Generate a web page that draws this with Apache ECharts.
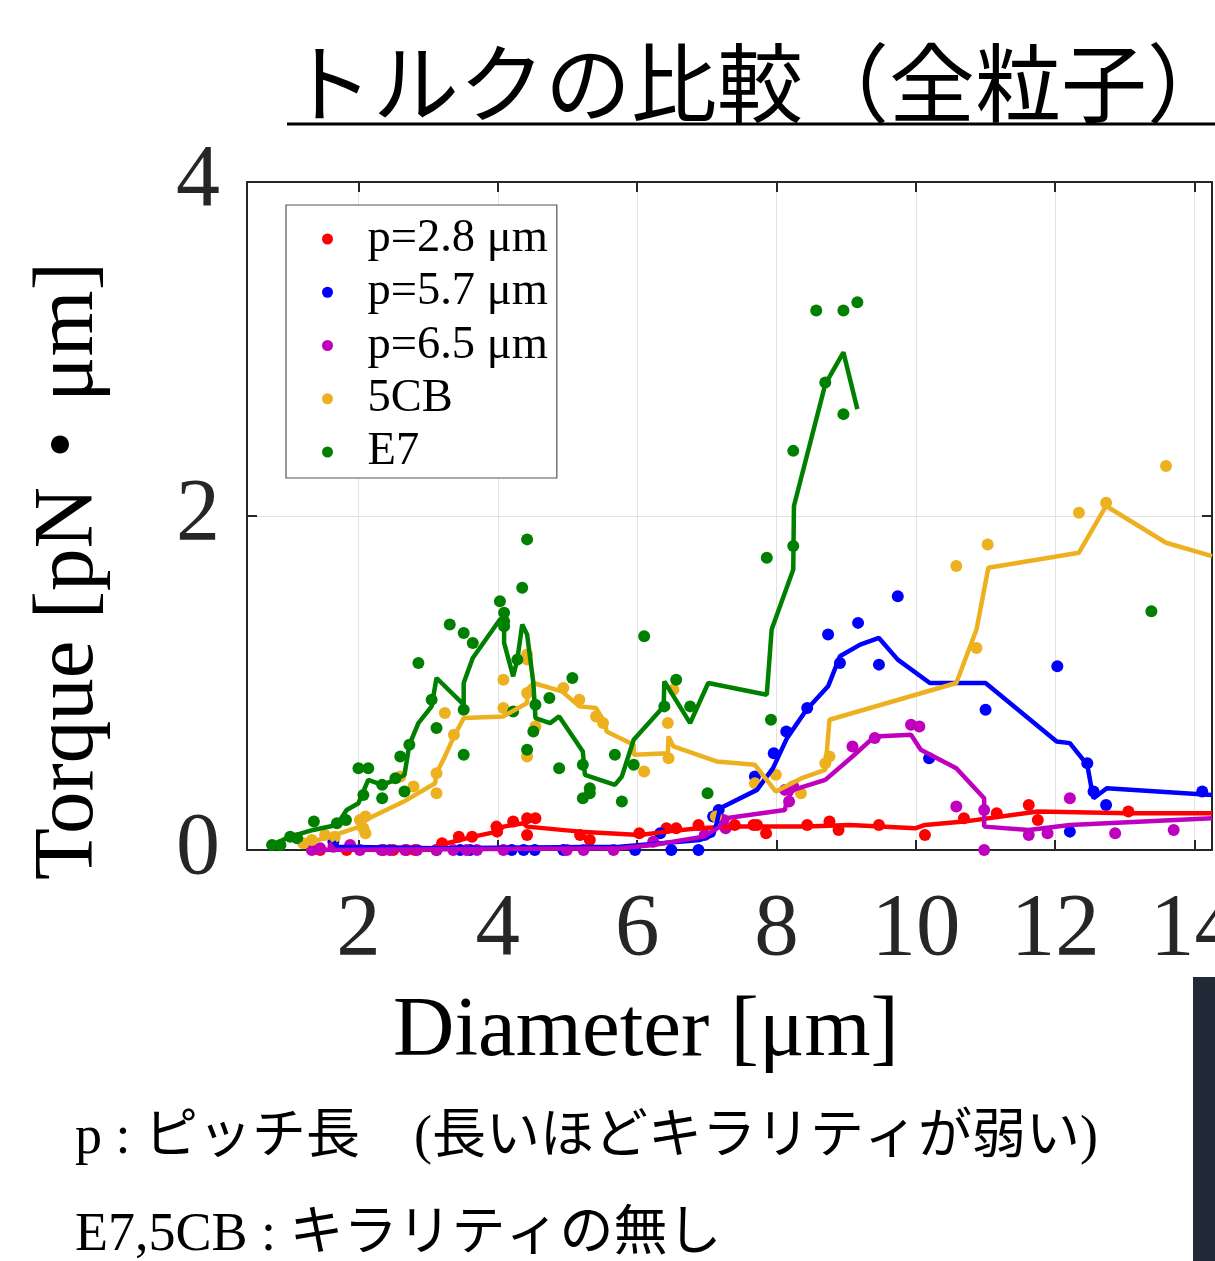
<!DOCTYPE html>
<html>
<head>
<meta charset="utf-8">
<title>トルクの比較（全粒子）</title>
<script src="https://cdn.jsdelivr.net/npm/echarts@6/dist/echarts.min.js"></script>
<style>
html, body { margin: 0; padding: 0; background: #fff; }
#main { width: 1215px; height: 1261px; }
</style>
</head>
<body>
<div id="main"></div>
<script>
// tick labels on the axes
var xTicks = [2, 4, 6, 8, 10, 12, 14];
var yTicks = [0, 2, 4];

var seriesNames = ['p=2.8 μm', 'p=5.7 μm', 'p=6.5 μm', '5CB', 'E7'];
var seriesColors = ['#ff0000', '#0000ff', '#bf00bf', '#edb120', '#008000'];

// p=2.8 um : measured points
var p28X = [1.45, 1.83, 2.36, 2.50, 2.69, 2.81, 3.20, 3.44, 3.63, 3.98, 3.99, 4.22, 4.42, 4.54, 4.42,
  5.18, 5.32, 6.03, 6.42, 6.56, 6.88, 7.40, 7.67, 7.72, 7.85, 8.44, 8.76, 8.89, 9.47,
  10.13, 10.69, 11.16, 11.62, 11.75, 13.05];
var p28Y = [0, 0, 0, 0, 0, 0, 0.04, 0.08, 0.08, 0.14, 0.11, 0.17, 0.19, 0.19, 0.09,
  0.09, 0.06, 0.10, 0.13, 0.13, 0.15, 0.15, 0.15, 0.15, 0.10, 0.15, 0.17, 0.12, 0.15,
  0.09, 0.19, 0.22, 0.27, 0.18, 0.23];
// p=2.8 um : averaged curve
var p28LineX = [1.45, 3.10, 3.17, 3.65, 3.99, 4.08, 4.37, 4.42, 5.18, 6.04, 6.42, 6.88, 7.40, 8.43,
  9.05, 9.99, 10.13, 10.69, 11.75, 13.05, 14.25];
var p28LineY = [0, 0, 0.03, 0.08, 0.11, 0.14, 0.16, 0.14, 0.11, 0.09, 0.11, 0.13, 0.14, 0.14,
  0.15, 0.13, 0.15, 0.17, 0.23, 0.22, 0.22];

// p=5.7 um
var p57X = [1.64, 3.12, 3.46, 3.60, 4.20, 4.37, 4.53, 4.94, 5.97, 6.33, 6.49, 6.88, 7.09, 7.17,
  7.69, 7.96, 8.14, 8.44, 8.74, 8.91, 9.17, 9.47, 9.74, 10.19, 11.00, 12.03, 12.21, 12.46,
  12.55, 12.73, 14.11];
var p57Y = [0.05, 0, 0, 0, 0, 0, 0, 0, 0, 0.10, 0, 0, 0.20, 0.24,
  0.44, 0.58, 0.71, 0.85, 1.29, 1.12, 1.36, 1.11, 1.52, 0.55, 0.84, 1.10, 0.11, 0.52,
  0.35, 0.27, 0.35];
var p57LineX = [1.64, 1.70, 3.12, 5.75, 6.90, 7.09, 7.14, 7.19, 7.72, 7.95, 8.15, 8.43, 8.74, 8.91,
  9.20, 9.47, 9.74, 10.20, 11.00, 12.02, 12.21, 12.46, 12.52, 12.55, 12.74, 14.25];
var p57LineY = [0.05, 0.02, 0.01, 0.02, 0.06, 0.09, 0.16, 0.25, 0.36, 0.49, 0.67, 0.84, 0.98, 1.16,
  1.23, 1.27, 1.14, 1.00, 1.00, 0.65, 0.64, 0.51, 0.37, 0.31, 0.37, 0.33];

// p=6.5 um
var p65X = [1.33, 1.45, 1.64, 1.88, 2.02, 2.33, 2.45, 2.67, 2.84, 3.12, 3.36, 3.55, 3.70, 4.08,
  4.99, 5.23, 5.66, 6.23, 6.97, 7.24, 7.27, 8.12, 8.18, 8.24, 9.09, 9.41, 9.93, 10.05,
  10.58, 10.98, 10.98, 11.62, 11.89, 12.21, 12.86, 13.70];
var p65Y = [0, 0.01, 0.02, 0.03, 0, 0, 0, 0, 0, 0, 0, 0, 0, 0,
  0, 0, 0, 0.05, 0.09, 0.18, 0.13, 0.36, 0.29, 0.38, 0.62, 0.67, 0.75, 0.74,
  0.26, 0.24, 0, 0.09, 0.10, 0.31, 0.10, 0.12];
var p65LineX = [1.31, 5.75, 6.23, 6.95, 7.19, 7.27, 8.12, 8.15, 8.24, 8.70, 9.09, 9.41, 9.93, 10.07,
  10.58, 10.98, 10.98, 11.62, 12.21, 14.25];
var p65LineY = [0, 0.01, 0.03, 0.08, 0.14, 0.19, 0.24, 0.30, 0.36, 0.42, 0.56, 0.68, 0.69, 0.60,
  0.49, 0.31, 0.14, 0.12, 0.15, 0.19];

// 5CB
var cbX = [1.21, 1.33, 1.52, 1.66, 2.02, 2.07, 2.10, 2.10, 2.60, 2.79, 3.12, 3.12, 3.24, 3.37,
  4.08, 4.08, 4.42, 4.42, 4.42, 4.42, 4.54, 4.94, 5.17, 5.41, 5.51, 6.10, 6.44, 6.45, 6.52,
  7.13, 7.69, 7.99, 8.35, 8.70, 8.76, 10.58, 10.87, 11.03, 12.34, 12.73, 13.59];
var cbY = [0.04, 0.06, 0.09, 0.08, 0.18, 0.13, 0.20, 0.10, 0.44, 0.38, 0.46, 0.34, 0.82, 0.69,
  1.02, 0.85, 1.17, 1.14, 0.94, 0.56, 0.74, 0.97, 0.90, 0.80, 0.76, 0.47, 0.76, 0.55, 0.96,
  0.20, 0.40, 0.45, 0.34, 0.52, 0.56, 1.70, 1.21, 1.83, 2.02, 2.08, 2.30];
var cbLineX = [1.16, 1.59, 2.02, 2.10, 2.65, 3.10, 3.12, 3.24, 3.37, 3.51, 4.08, 4.42, 4.42, 4.51,
  4.92, 5.17, 5.41, 5.54, 5.56, 5.95, 5.95, 6.44, 6.45, 6.52, 7.14, 7.69, 7.99, 8.36, 8.70,
  8.76, 10.58, 10.87, 11.04, 12.34, 12.73, 13.59, 14.25];
var cbLineY = [0.03, 0.08, 0.14, 0.18, 0.29, 0.40, 0.46, 0.56, 0.68, 0.79, 0.80, 0.88, 0.96, 1.00,
  0.95, 0.86, 0.85, 0.76, 0.71, 0.63, 0.57, 0.58, 0.68, 0.62, 0.53, 0.51, 0.35, 0.43, 0.48,
  0.78, 1.00, 1.32, 1.69, 1.78, 2.06, 1.84, 1.76];

// E7
var e7X = [0.76, 0.88, 1.02, 1.12, 1.36, 1.69, 1.82, 2.00, 2.07, 2.14, 2.34, 2.34, 2.53, 2.60,
  2.66, 2.73, 2.86, 3.05, 3.12, 3.31, 3.51, 3.51, 3.51, 3.64, 4.03, 4.09, 4.09, 4.09, 4.22,
  4.28, 4.35, 4.42, 4.42, 4.51, 4.54, 4.74, 4.88, 5.07, 5.22, 5.22, 5.32, 5.32, 5.68, 5.78,
  5.95, 6.10, 6.39, 6.56, 6.76, 7.01, 7.86, 7.92, 8.24, 8.24, 8.57, 8.70, 8.96, 8.96, 9.16,
  13.38];
var e7Y = [0.03, 0.03, 0.08, 0.07, 0.17, 0.16, 0.18, 0.49, 0.33, 0.49, 0.39, 0.31, 0.43, 0.56,
  0.35, 0.63, 1.12, 0.90, 0.73, 1.35, 1.30, 0.84, 0.57, 1.24, 1.49, 1.42, 1.37, 1.34, 0.83,
  1.14, 1.57, 1.86, 0.60, 0.71, 0.87, 0.91, 0.49, 1.03, 0.51, 0.31, 0.37, 0.34, 0.57, 0.29,
  0.51, 1.28, 0.86, 1.02, 0.86, 0.34, 1.75, 0.78, 1.82, 2.39, 3.23, 2.80, 3.23, 2.61, 3.28,
  1.43];
var e7LineX = [0.76, 1.02, 1.35, 1.69, 1.83, 2.00, 2.14, 2.34, 2.53, 2.66, 2.73, 2.86, 3.05, 3.12,
  3.51, 3.51, 3.64, 4.03, 4.09, 4.09, 4.22, 4.28, 4.35, 4.42, 4.51, 4.54, 4.75, 4.88, 5.22,
  5.25, 5.68, 5.78, 5.95, 6.38, 6.39, 6.76, 7.02, 7.86, 7.93, 8.24, 8.25, 8.70, 8.96, 9.16];
var e7LineY = [0.03, 0.08, 0.12, 0.15, 0.24, 0.28, 0.42, 0.39, 0.42, 0.45, 0.63, 0.76, 0.86, 1.03,
  0.87, 1.00, 1.15, 1.38, 1.38, 1.24, 1.04, 1.14, 1.35, 1.29, 1.00, 0.79, 0.76, 0.80, 0.59,
  0.45, 0.39, 0.44, 0.66, 0.86, 1.01, 0.76, 1.00, 0.93, 1.32, 1.68, 2.06, 2.79, 2.98, 2.64];

var pointSets = [[p28X, p28Y], [p57X, p57Y], [p65X, p65Y], [cbX, cbY], [e7X, e7Y]];
var lineSets = [[p28LineX, p28LineY], [p57LineX, p57LineY], [p65LineX, p65LineY], [cbLineX, cbLineY], [e7LineX, e7LineY]];

var SERIF = '"Liberation Serif", "Times New Roman", serif';
var MIXED = '"Liberation Serif", "Noto Sans CJK JP", serif';
var AXIS_COLOR = '#262626';
var GRID_COLOR = '#e3e3e3';

function pairs(xs, ys) {
  return xs.map(function (x, i) { return [x, ys[i]]; });
}

function tickLabel(list) {
  return function (v) {
    for (var i = 0; i < list.length; i++) {
      if (Math.abs(v - list[i]) < 1e-6) return String(list[i]);
    }
    return '';
  };
}

var series = [];
for (var i = 0; i < seriesNames.length; i++) {
  series.push({
    name: seriesNames[i],
    type: 'scatter',
    data: pairs(pointSets[i][0], pointSets[i][1]),
    symbol: 'circle',
    symbolSize: 12,
    clip: false,
    itemStyle: { color: seriesColors[i], opacity: 1 },
    silent: true
  });
  series.push({
    name: seriesNames[i],
    type: 'line',
    data: pairs(lineSets[i][0], lineSets[i][1]),
    showSymbol: false,
    symbol: 'none',
    lineStyle: { color: seriesColors[i], width: 4.5 },
    itemStyle: { color: seriesColors[i] },
    silent: true
  });
}

function boxAxisX(extra) {
  var base = {
    type: 'value',
    min: 0.4,
    max: 14.25,
    minInterval: 2,
    maxInterval: 2,
    splitNumber: 7,
    axisLine: { show: true, onZero: false, lineStyle: { color: AXIS_COLOR, width: 2 } },
    axisTick: { show: true, inside: true, length: 10, lineStyle: { color: AXIS_COLOR, width: 2 } }
  };
  return Object.assign(base, extra);
}

function boxAxisY(extra) {
  var base = {
    type: 'value',
    min: 0,
    max: 4,
    interval: 2,
    axisLine: { show: true, onZero: false, lineStyle: { color: AXIS_COLOR, width: 2 } },
    axisTick: { show: true, inside: true, length: 10, lineStyle: { color: AXIS_COLOR, width: 2 } }
  };
  return Object.assign(base, extra);
}

var chart = echarts.init(document.getElementById('main'), null, { renderer: 'canvas' });

var option = {
  animation: false,
  backgroundColor: '#ffffff',
  grid: { left: 247, top: 182, width: 965, height: 668, outerBoundsMode: 'none' },
  xAxis: [
    boxAxisX({
      position: 'bottom',
      axisLabel: {
        margin: 36, fontSize: 89, fontFamily: SERIF, color: AXIS_COLOR,
        showMinLabel: false, showMaxLabel: false, hideOverlap: false, formatter: tickLabel(xTicks)
      },
      splitLine: { show: true, lineStyle: { color: GRID_COLOR, width: 1 } }
    }),
    boxAxisX({
      position: 'top',
      axisLabel: { show: false },
      splitLine: { show: false }
    })
  ],
  yAxis: [
    boxAxisY({
      position: 'left',
      axisLabel: {
        margin: 27, fontSize: 88, fontFamily: SERIF, color: AXIS_COLOR,
        padding: [8, 0, 0, 0],
        formatter: tickLabel(yTicks)
      },
      splitLine: { show: true, lineStyle: { color: GRID_COLOR, width: 1 } }
    }),
    boxAxisY({
      position: 'right',
      axisLabel: { show: false },
      splitLine: { show: false }
    })
  ],
  legend: {
    data: seriesNames,
    orient: 'vertical',
    left: 286,
    top: 205,
    icon: 'circle',
    itemWidth: 70,
    itemHeight: 11,
    itemGap: 6.25,
    padding: [10.5, 9, 2.5, 36],
    backgroundColor: '#ffffff',
    borderColor: '#555555',
    borderWidth: 1.2,
    borderRadius: 0,
    selectedMode: false,
    textStyle: { fontSize: 46.5, lineHeight: 47, fontFamily: SERIF, color: '#000000' }
  },
  graphic: [
    {
      type: 'text', x: 287, y: 83, silent: true,
      style: {
        text: 'トルクの比較（全粒子）', font: '86px "Noto Sans CJK JP", sans-serif', fill: '#000',
        textAlign: 'left', align: 'left', textVerticalAlign: 'middle', verticalAlign: 'middle'
      }
    },
    {
      type: 'line', silent: true,
      shape: { x1: 287, y1: 124, x2: 1215, y2: 124 },
      style: { stroke: '#000', lineWidth: 3 }
    },
    {
      type: 'text', x: 70, y: 571, rotation: Math.PI / 2, silent: true,
      style: {
        text: 'Torque [pN・μm]', font: '85px ' + MIXED, fill: '#000',
        textAlign: 'center', align: 'center', textVerticalAlign: 'middle', verticalAlign: 'middle'
      }
    },
    {
      type: 'text', x: 646, y: 1033, silent: true,
      style: {
        text: 'Diameter [μm]', font: '85px ' + SERIF, fill: '#000',
        textAlign: 'center', align: 'center', textVerticalAlign: 'middle', verticalAlign: 'middle'
      }
    },
    {
      type: 'text', x: 75, y: 1139, silent: true,
      style: {
        text: 'p : ピッチ長　(長いほどキラリティが弱い)', font: '54px ' + MIXED, fill: '#000',
        textAlign: 'left', align: 'left', textVerticalAlign: 'middle', verticalAlign: 'middle'
      }
    },
    {
      type: 'text', x: 75, y: 1236, silent: true,
      style: {
        text: 'E7,5CB : キラリティの無し', font: '54px ' + MIXED, fill: '#000',
        textAlign: 'left', align: 'left', textVerticalAlign: 'middle', verticalAlign: 'middle'
      }
    },
    {
      type: 'rect', silent: true,
      shape: { x: 1193, y: 977, width: 22, height: 284 },
      style: { fill: '#232a37' }
    }
  ],
  series: series
};

chart.setOption(option);
</script>
</body>
</html>
